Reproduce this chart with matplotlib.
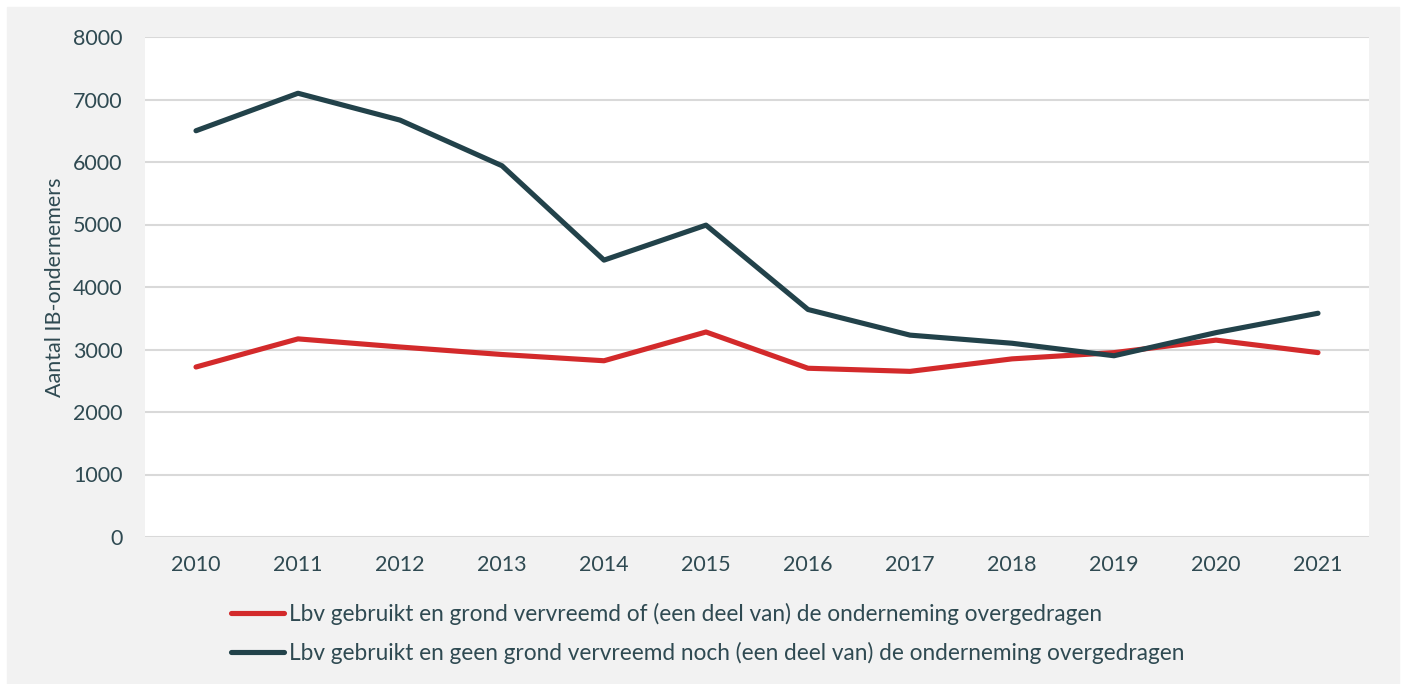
import matplotlib.pyplot as plt
from matplotlib.patches import Rectangle

YEARS = ["2010", "2011", "2012", "2013", "2014", "2015",
         "2016", "2017", "2018", "2019", "2020", "2021"]
WITH_TRANSFER = [2720, 3170, 3040, 2920, 2820, 3280, 2700, 2650, 2850, 2950, 3150, 2950]
NO_TRANSFER = [6500, 7100, 6670, 5940, 4430, 4990, 3640, 3230, 3100, 2900, 3270, 3580]
LABELS = ["Lbv gebruikt en grond vervreemd of (een deel van) de onderneming overgedragen",
          "Lbv gebruikt en geen grond vervreemd noch (een deel van) de onderneming overgedragen"]
Y_TICKS = [0, 1000, 2000, 3000, 4000, 5000, 6000, 7000, 8000]

RED = "#d32a2b"
DARK = "#22424a"
INK = "#2f4a52"
GRID = "#d9d9d9"
PANEL = "#f2f2f2"

plt.rcParams.update({
    "font.family": ["Lato", "DejaVu Sans"],
    "font.size": 15,
    "text.color": INK,
    "xtick.color": INK,
    "ytick.color": INK,
    "axes.labelcolor": INK,
})

W, H = 1402, 684
fig = plt.figure(figsize=(W / 100, H / 100), dpi=100, facecolor="white")
fig.patches.append(Rectangle((7 / W, 0), (1399 - 7) / W, 1 - 7 / H,
                             transform=fig.transFigure, color=PANEL, zorder=-10))

ax = fig.add_axes([145 / W, 1 - 537 / H, (1369 - 145) / W, (537 - 37) / H])
ax.set_facecolor("white")
x = range(len(YEARS))
l1, = ax.plot(x, WITH_TRANSFER, color=RED, linewidth=3.7, solid_capstyle="round",
              solid_joinstyle="round", zorder=3)
l2, = ax.plot(x, NO_TRANSFER, color=DARK, linewidth=3.7, solid_capstyle="round",
              solid_joinstyle="round", zorder=4)

ax.set_xlim(-0.5, len(YEARS) - 0.5)
ax.set_ylim(0, 8000)
ax.set_xticks(list(x), YEARS)
ax.set_yticks(Y_TICKS)
ax.tick_params(axis="both", length=0, labelsize=15.5)
ax.tick_params(axis="x", pad=13)
ax.tick_params(axis="y", pad=16)
ax.grid(axis="y", color=GRID, linewidth=1.5)
ax.set_axisbelow(True)
for spine in ax.spines.values():
    spine.set_visible(False)
ax.set_ylabel("Aantal IB-ondernemers", fontsize=15.5, labelpad=6)

fig.legend([l1, l2], LABELS, loc="upper left", bbox_to_anchor=(222 / W, 1 - 594 / H),
           frameon=False, fontsize=16.3, handlelength=2.35, handletextpad=0.2,
           labelspacing=0.72, borderaxespad=0)

fig.savefig("out.png", dpi=100, facecolor="white")
